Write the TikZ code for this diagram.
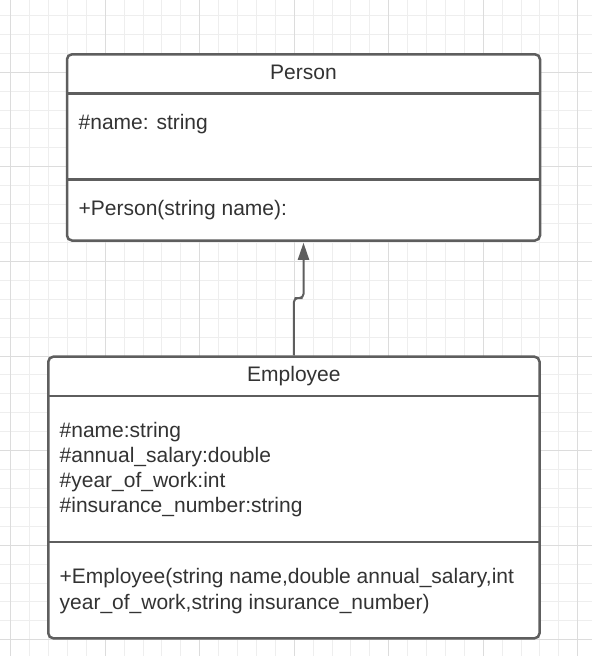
\documentclass[tikz,border=0pt]{standalone}
\usepackage{fontspec}
\setmainfont{Liberation Sans}
\usetikzlibrary{arrows.meta,positioning}
\definecolor{umlline}{HTML}{5E5E5E}
\definecolor{umltext}{HTML}{333333}
\definecolor{gridminor}{HTML}{EEEEEE}
\definecolor{gridmajor}{HTML}{DCDCDC}

\begin{document}
\begin{tikzpicture}[x=1pt,y=-1pt,
  classbox/.style={draw=umlline, line width=2.5pt, fill=white, rounded corners=5pt, inner sep=0pt},
  classname/.style={text=umltext, font=\fontsize{21}{25}\selectfont, inner sep=0pt, anchor=base},
  member/.style={text=umltext, font=\fontsize{21}{25}\selectfont, inner sep=0pt, anchor=base west},
  divider/.style={draw=umlline, line width=2.5pt},
  connector/.style={draw=umlline, line width=2pt, rounded corners=4pt, shorten >=1pt, -{Triangle[length=17pt,width=11pt]}}]
\useasboundingbox[fill=white] (0,0) rectangle (592,656);
% background grid
\foreach \i in {0,...,31} \draw[gridminor, line width=1pt] (10.7+18.9*\i,0) -- ++(0,656);
\foreach \i in {-3,...,31} \draw[gridminor, line width=1pt] (0,72.2+18.92*\i) -- ++(592,0);
\foreach \i in {0,...,6} \draw[gridmajor, line width=1pt] (10.7+94.5*\i,0) -- ++(0,656);
\foreach \i in {-1,...,6} \draw[gridmajor, line width=1pt] (0,72.2+94.6*\i) -- ++(592,0);
% classes
\node[classbox, minimum width=473pt, minimum height=186.2pt] (person) at (303.5,147.4) {};
\node[classbox, minimum width=491.2pt, minimum height=281.6pt] (employee) at (293.9,497.5) {};
\draw[divider] ([yshift=-40.2pt]person.north west) -- ([yshift=-40.2pt]person.north east);
\draw[divider] ([yshift=-126.4pt]person.north west) -- ([yshift=-126.4pt]person.north east);
\draw[divider] ([yshift=-40.6pt]employee.north west) -- ([yshift=-40.6pt]employee.north east);
\draw[divider] ([yshift=-186.3pt]employee.north west) -- ([yshift=-186.3pt]employee.north east);
% texts
\node[classname] (ptitle) at (303.5,79.5) {Person};
\node[member] (pattr) at (78.5,129.3) {\#name: string};
\node[member] (pop) at (78.5,215) {+Person(string name):};
\node[classname] (etitle) at (293.9,381.7) {Employee};
\node[member] (eattra) at (59.5,437.3) {\#name:string};
\node[member] (eattrb) at (59.5,462.7) {\#annual\_salary:double};
\node[member] (eattrc) at (59.5,487.7) {\#year\_of\_work:int};
\node[member] (eattrd) at (59.5,512.7) {\#insurance\_number:string};
\node[member] (eopa) at (59.5,583.3) {+Employee(string name,double annual\_salary,int};
\node[member] (eopb) at (59.5,609) {year\_of\_work,string insurance\_number)};
% inheritance
\coordinate (bend) at (298.7,298);
\draw[connector] (employee.north) |- (bend) -| (person.south);
\end{tikzpicture}
\end{document}
